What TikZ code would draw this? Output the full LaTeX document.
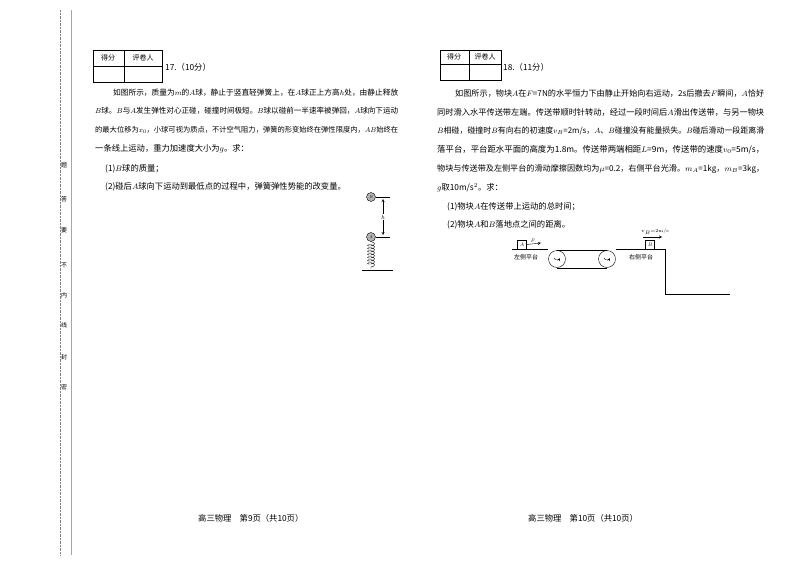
\documentclass[tikz,border=0pt]{standalone}
\usepackage{fontspec}
\usepackage{graphicx}
\newfontfamily\cjk{Noto Sans CJK SC}
\usetikzlibrary{decorations.pathmorphing}
\newcommand{\fitto}[2]{\resizebox{#1}{!}{#2}}
\begin{document}
\begin{tikzpicture}[x=1pt,y=-1pt,
  txt/.style={anchor=west,inner sep=0pt,font=\cjk\fontsize{8.3}{9}\selectfont},
  lbl/.style={inner sep=0pt,font=\cjk\fontsize{6}{7}\selectfont},
  ball/.style={circle,draw,fill=gray!60,minimum size=9pt,inner sep=0pt,font=\fontsize{4}{4}\selectfont\itshape}]
\useasboundingbox (0,0) rectangle (800,565);
\fill[white] (0,0) rectangle (800,565);
% side margin
\draw[densely dotted,gray] (60,10) -- (60,555);
\draw[gray!70] (71,10) -- (71,555);
\foreach \c/\y in {题/165,答/199,要/230,不/265,内/295,线/325,封/357,密/387}
  \node[lbl,font=\cjk\fontsize{6}{7}\selectfont] (s\y) at (64,\y) {\c};
% score box left
\draw (93,50) rectangle (162,82); \draw (124,50)--(124,82); \draw (93,66)--(162,66);
\node[lbl,font=\cjk\fontsize{7}{8}\selectfont] (g1) at (108,58) {得分};
\node[lbl,font=\cjk\fontsize{7}{8}\selectfont] (p1) at (143,58) {评卷人};
\node[txt] (t17) at (165,67) {17.（10分）};
\node[txt] (l1) at (113,93) {\fitto{285pt}{如图所示，质量为$m$的$A$球，静止于竖直轻弹簧上，在$A$球正上方高$h$处，由静止释放}};
\node[txt] (l2) at (95,111) {\fitto{303pt}{$B$球。$B$与$A$发生弹性对心正碰，碰撞时间极短。$B$球以碰前一半速率被弹回，$A$球向下运动}};
\node[txt] (l3) at (95,130) {\fitto{303pt}{的最大位移为$x_0$，小球可视为质点，不计空气阻力，弹簧的形变始终在弹性限度内，$AB$始终在}};
\node[txt] (l4) at (95,149) {一条线上运动，重力加速度大小为$g$。求：};
\node[txt] (l5) at (105,169) {(1)$B$球的质量；};
\node[txt] (l6) at (105,187) {(2)碰后$A$球向下运动到最低点的过程中，弹簧弹性势能的改变量。};
% spring figure
\node[ball] (B) at (371,197) {B};
\node[ball] (A) at (371,237) {A};
\draw[thin] (B.east) -- (390,197); \draw[thin] (A.east) -- (390,237);
\draw[<->,>=stealth,thin] (383,199) -- (383,235) node[midway,fill=white,inner sep=1pt,font=\fontsize{6}{6}\selectfont\itshape] (hh) {h};
\coordinate (sp) at (371,269);
\draw[decorate,decoration={coil,aspect=0.4,segment length=3pt,amplitude=3.5pt}] (A.south) -- (sp);
\draw (362,270) -- (393,270);
% score box right
\draw (440,50) rectangle (501,80); \draw (469,50)--(469,80); \draw (440,64)--(501,64);
\node[lbl,font=\cjk\fontsize{7}{8}\selectfont] (g2) at (454,57) {得分};
\node[lbl,font=\cjk\fontsize{7}{8}\selectfont] (p2) at (485,57) {评卷人};
\node[txt] (t18) at (503,67) {18.（11分）};
\node[txt] (r1) at (455,93) {\fitto{309pt}{如图所示，物块$A$在$F$=7N的水平恒力下由静止开始向右运动，2s后撤去$F$瞬间，$A$恰好}};
\node[txt] (r2) at (437,112) {\fitto{327pt}{同时滑入水平传送带左端。传送带顺时针转动，经过一段时间后$A$滑出传送带，与另一物块}};
\node[txt] (r3) at (437,131) {\fitto{327pt}{$B$相碰，碰撞时$B$有向右的初速度$v_B$=2m/s，$A$、$B$碰撞没有能量损失。$B$碰后滑动一段距离滑}};
\node[txt] (r4) at (437,150) {\fitto{327pt}{落平台，平台距水平面的高度为1.8m。传送带两端相距$L$=9m，传送带的速度$v_0$=5m/s，}};
\node[txt] (r5) at (437,169) {\fitto{327pt}{物块与传送带及左侧平台的滑动摩擦因数均为$\mu$=0.2，右侧平台光滑。$m_A$=1kg，$m_B$=3kg，}};
\node[txt] (r6) at (437,188) {$g$取10m/s$^2$。求：};
\node[txt] (r7) at (447,207) {(1)物块$A$在传送带上运动的总时间；};
\node[txt] (r8) at (447,225) {(2)物块$A$和$B$落地点之间的距离。};
% conveyor figure
\draw (512,249) -- (548,249); \draw (616,249) -- (665,249);
\draw (665,249) -- (665,294) -- (730,294);
\node[circle,draw,minimum size=17pt,inner sep=0pt] (P1) at (557,259) {};
\node[circle,draw,minimum size=17pt,inner sep=0pt] (P2) at (607,259) {};
\draw (P1.north) -- (P2.north); \draw (P1.south) -- (P2.south);
\draw[->,>=stealth] ([shift={(-3,-1)}]P1.center) arc (160:20:3);
\draw[->,>=stealth] ([shift={(-3,-1)}]P2.center) arc (160:20:3);
\node[draw,minimum size=9pt,inner sep=0pt,font=\fontsize{5}{5}\selectfont\itshape] (bA) at (522,244.5) {A};
\node[draw,minimum size=9pt,inner sep=0pt,font=\fontsize{5}{5}\selectfont\itshape] (bB) at (650,244.5) {B};
\coordinate (Fe) at (541,243);
\draw[->,>=stealth,thin] (bA.east) -- (Fe) node[above,pos=0.4,inner sep=1pt,font=\fontsize{5}{5}\selectfont\itshape] (Fl) {F};
\coordinate (v1) at (643,237); \coordinate (v2) at (662,237);
\draw[->,>=stealth,thin] (v1) -- (v2);
\node[font=\fontsize{4.5}{5}\selectfont,inner sep=0pt] (vl) at (655,232) {$v_B$=2m/s};
\node[lbl] (lp) at (526,257) {左侧平台};
\node[lbl] (rp) at (641,257) {右侧平台};
% footers
\node[txt] (f1) at (198,518) {高三物理\quad 第9页（共10页）};
\node[txt] (f2) at (528,518) {高三物理\quad 第10页（共10页）};
\end{tikzpicture}
\end{document}
